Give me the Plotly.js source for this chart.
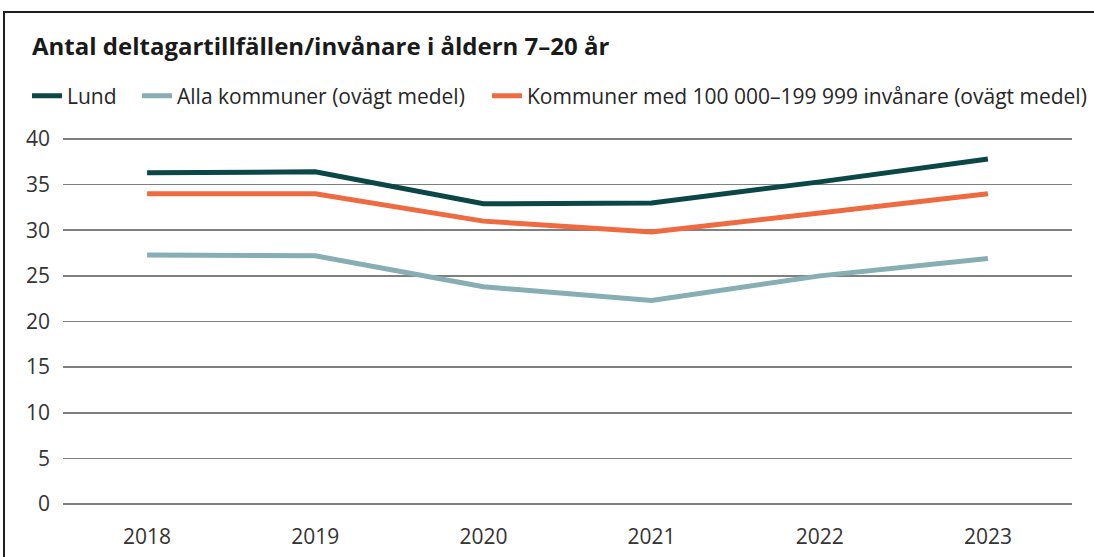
<!DOCTYPE html>
<html><head><meta charset="utf-8">
<script src="https://cdn.plot.ly/plotly-3.0.1.min.js"></script>
<style>
html,body{margin:0;padding:0;background:#fff;width:1094px;height:557px;overflow:hidden;}
#chart{position:absolute;left:0;top:0;width:1094px;height:557px;}
#frame{position:absolute;left:3px;top:11px;width:1200px;height:700px;border-left:2px solid #1e1e1e;border-top:2px solid #1e1e1e;pointer-events:none;}
</style></head>
<body>
<div id="chart"></div>
<div id="frame"></div>
<script>
const years = ['2018','2019','2020','2021','2022','2023'];
const lund = [36.3, 36.4, 32.9, 33.0, 35.3, 37.8];
const allaKommuner = [27.3, 27.2, 23.8, 22.3, 25.0, 26.9];
const storaKommuner = [34.0, 34.0, 31.0, 29.8, 31.9, 34.0];
const seriesNames = ['Lund', 'Alla kommuner (ovägt medel)', 'Kommuner med 100 000–199 999 invånare (ovägt medel)'];
const yTicks = [0,5,10,15,20,25,30,35,40];

const FONT = 'Open Sans, Noto Sans, sans-serif';
const traces = [
  {x: years, y: lund, name: seriesNames[0], mode:'lines', line:{color:'#0b4747', width:5}, legend:'legend'},
  {x: years, y: allaKommuner, name: seriesNames[1], mode:'lines', line:{color:'#87adb5', width:5}, legend:'legend2'},
  {x: years, y: storaKommuner, name: seriesNames[2], mode:'lines', line:{color:'#ee6b41', width:5}, legend:'legend3'}
];
function leg(xpx){
  return {orientation:'h', xref:'container', yref:'container', x:xpx/1094, xanchor:'left', y:1-96/557, yanchor:'middle',
    font:{family:FONT, size:21, color:'#262626'}, itemwidth:30, bgcolor:'rgba(0,0,0,0)'};
}
const layout = {
  width:1094, height:557,
  margin:{l:63, r:22, t:137, b:51},
  paper_bgcolor:'#fff', plot_bgcolor:'#fff',
  font:{family:FONT, color:'#262626', size:21},
  title:{text:'<b>Antal deltagartillfällen/invånare i åldern 7–20 år</b>', font:{family:FONT, size:24, color:'#1a1a1a'},
    xref:'container', yref:'container', x:32/1094, xanchor:'left', y:1-47/557, yanchor:'middle'},
  showlegend:true,
  legend:leg(27), legend2:leg(137), legend3:leg(487),
  xaxis:{type:'category', range:[-0.5,5.5], showgrid:false, zeroline:false, showline:false, ticks:'',
    tickfont:{family:FONT, size:21, color:'#333'}, ticklabelstandoff:16, fixedrange:true},
  yaxis:{range:[-0.22,40.22], tickvals:yTicks, ticktext:yTicks.map(String), showgrid:true, gridcolor:'#7f7f7f', gridwidth:1.6,
    zeroline:false, showline:false, ticks:'', tickfont:{family:FONT, size:21, color:'#333'}, ticklabelstandoff:12, fixedrange:true}
};
Plotly.newPlot('chart', traces, layout, {displayModeBar:false, staticPlot:true});
</script>
</body></html>
